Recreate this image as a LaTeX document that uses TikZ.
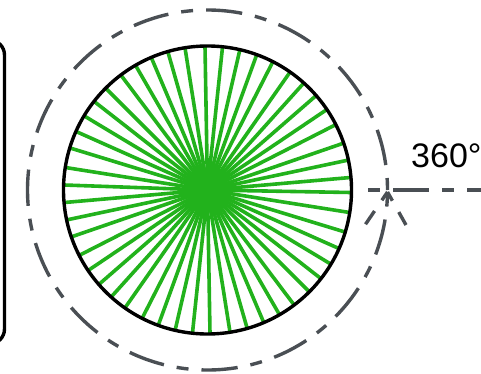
\documentclass[tikz,border=0pt]{standalone}
\usepackage{fontspec}
\setmainfont{Liberation Sans}
\usetikzlibrary{backgrounds}
\definecolor{spokegreen}{RGB}{34,178,28}
\definecolor{turngray}{RGB}{74,79,84}
\begin{document}
\begin{tikzpicture}[x=1pt,y=1pt,
        wheel/.style={draw,circle,line width=3.4pt,outer sep=0pt,inner sep=0pt,minimum size=288pt},
        spokeline/.style={draw=spokegreen,line width=3.6pt},
        turnline/.style={draw=turngray,line width=3.4pt,dash pattern=on 12pt off 13pt on 36.3pt off 13pt}]
        \useasboundingbox (0,0) rectangle (481,373);
        \node[wheel] (W) at (207.5,183) {};
        \begin{pgfonlayer}{background}
            \foreach \a in {0,...,49}
                \draw[spokeline] (W.center) -- (W.{-1.6+7.2*\a});
        \end{pgfonlayer}
        \draw[line width=3.4pt,rounded corners=15pt] (-30,333) -- (4.5,333) -- (4.5,29) -- (-30,29);
        \draw[turnline] (W.center) ++(0:180) arc[start angle=0,end angle=360,radius=180];
        \coordinate (tip) at (387.5,181);
        \coordinate (barbL) at (365,148);
        \coordinate (barbR) at (406,148);
        \draw[draw=turngray,line width=3.4pt,dash pattern=on 10pt off 13pt on 16pt] (tip) -- (barbL);
        \draw[draw=turngray,line width=3.4pt,dash pattern=on 10pt off 13pt on 16pt] (tip) -- (barbR);
        \coordinate (rayA) at (368,183);
        \coordinate (rayB) at (500,183);
        \draw[turnline] (rayA) -- (rayB);
        \node[anchor=base west,inner sep=0pt,font=\fontsize{34}{40}\selectfont] (deg) at (411,206) {360°};
    \end{tikzpicture}
\end{document}
